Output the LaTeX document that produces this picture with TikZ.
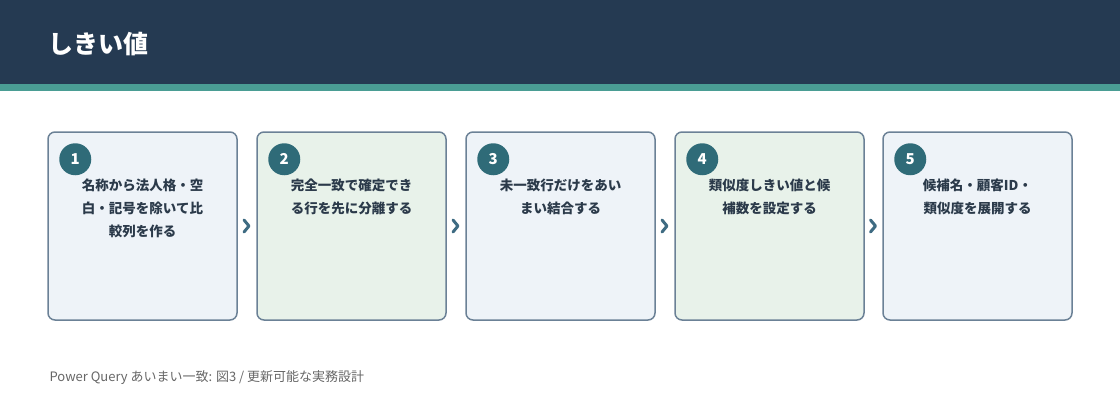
\documentclass[tikz,border=0pt]{standalone}
\usepackage{fontspec}
\setmainfont{Noto Sans CJK JP}
\usetikzlibrary{positioning,calc}
\definecolor{hdr}{HTML}{253A52}
\definecolor{band}{HTML}{4A9D94}
\definecolor{bluef}{HTML}{EEF3F8}
\definecolor{greenf}{HTML}{E8F2EA}
\definecolor{edge}{HTML}{6B8196}
\definecolor{badge}{HTML}{2F6B78}
\definecolor{ink}{HTML}{2B3A4A}
\definecolor{arr}{HTML}{3E6B82}
\begin{document}
\begin{tikzpicture}[x=1pt,y=-1pt,
    stepbox/.style={draw=edge,line width=1.5pt,rounded corners=7pt,minimum width=189pt,minimum height=188pt,inner sep=0pt},
    num/.style={circle,fill=badge,text=white,minimum size=32pt,inner sep=0pt,font=\bfseries\fontsize{15}{15}\selectfont},
    txt/.style={text=ink,align=center,font=\bfseries\fontsize{13.5}{23}\selectfont},
    chev/.style={draw=arr,line width=3pt,line cap=round,line join=round}]
  \useasboundingbox (0,0) rectangle (1120,420);
  \fill[hdr] (0,0) rectangle (1120,84);
  \fill[band] (0,84) rectangle (1120,91);
  \node[anchor=west,text=white,font=\bfseries\fontsize{25}{25}\selectfont] (title) at (45,44) {しきい値};

  \node[stepbox,fill=bluef]  (s1) at (142.5,226) {};
  \node[stepbox,fill=greenf] (s2) at (351.5,226) {};
  \node[stepbox,fill=bluef]  (s3) at (560.5,226) {};
  \node[stepbox,fill=greenf] (s4) at (769.5,226) {};
  \node[stepbox,fill=bluef]  (s5) at (977.5,226) {};

  \foreach \i in {1,...,5} {
    \node[num] (n\i) at ($(s\i.north west)+(28,28)$) {\i};
  }

  \node[txt,anchor=north] (t1) at ($(s1.north)+(0,44)$) {名称から法人格・空\\白・記号を除いて比\\較列を作る};
  \node[txt,anchor=north] (t2) at ($(s2.north)+(0,44)$) {完全一致で確定でき\\る行を先に分離する};
  \node[txt,anchor=north] (t3) at ($(s3.north)+(0,44)$) {未一致行だけをあい\\まい結合する};
  \node[txt,anchor=north] (t4) at ($(s4.north)+(0,44)$) {類似度しきい値と候\\補数を設定する};
  \node[txt,anchor=north] (t5) at ($(s5.north)+(0,44)$) {候補名・顧客ID・\\類似度を展開する};

  % chevrons between steps
  \foreach \a/\b in {1/2,2/3,3/4,4/5} {
    \draw[chev] ($(s\a.east)!0.5!(s\b.west)+(-3,-6)$) -- ++(5,6) -- ++(-5,6);
  }

  \node[anchor=west,text=black!60,font=\fontsize{13}{13}\selectfont] (foot) at (46,378) {Power Query あいまい一致: 図3 / 更新可能な実務設計};
\end{tikzpicture}
\end{document}
